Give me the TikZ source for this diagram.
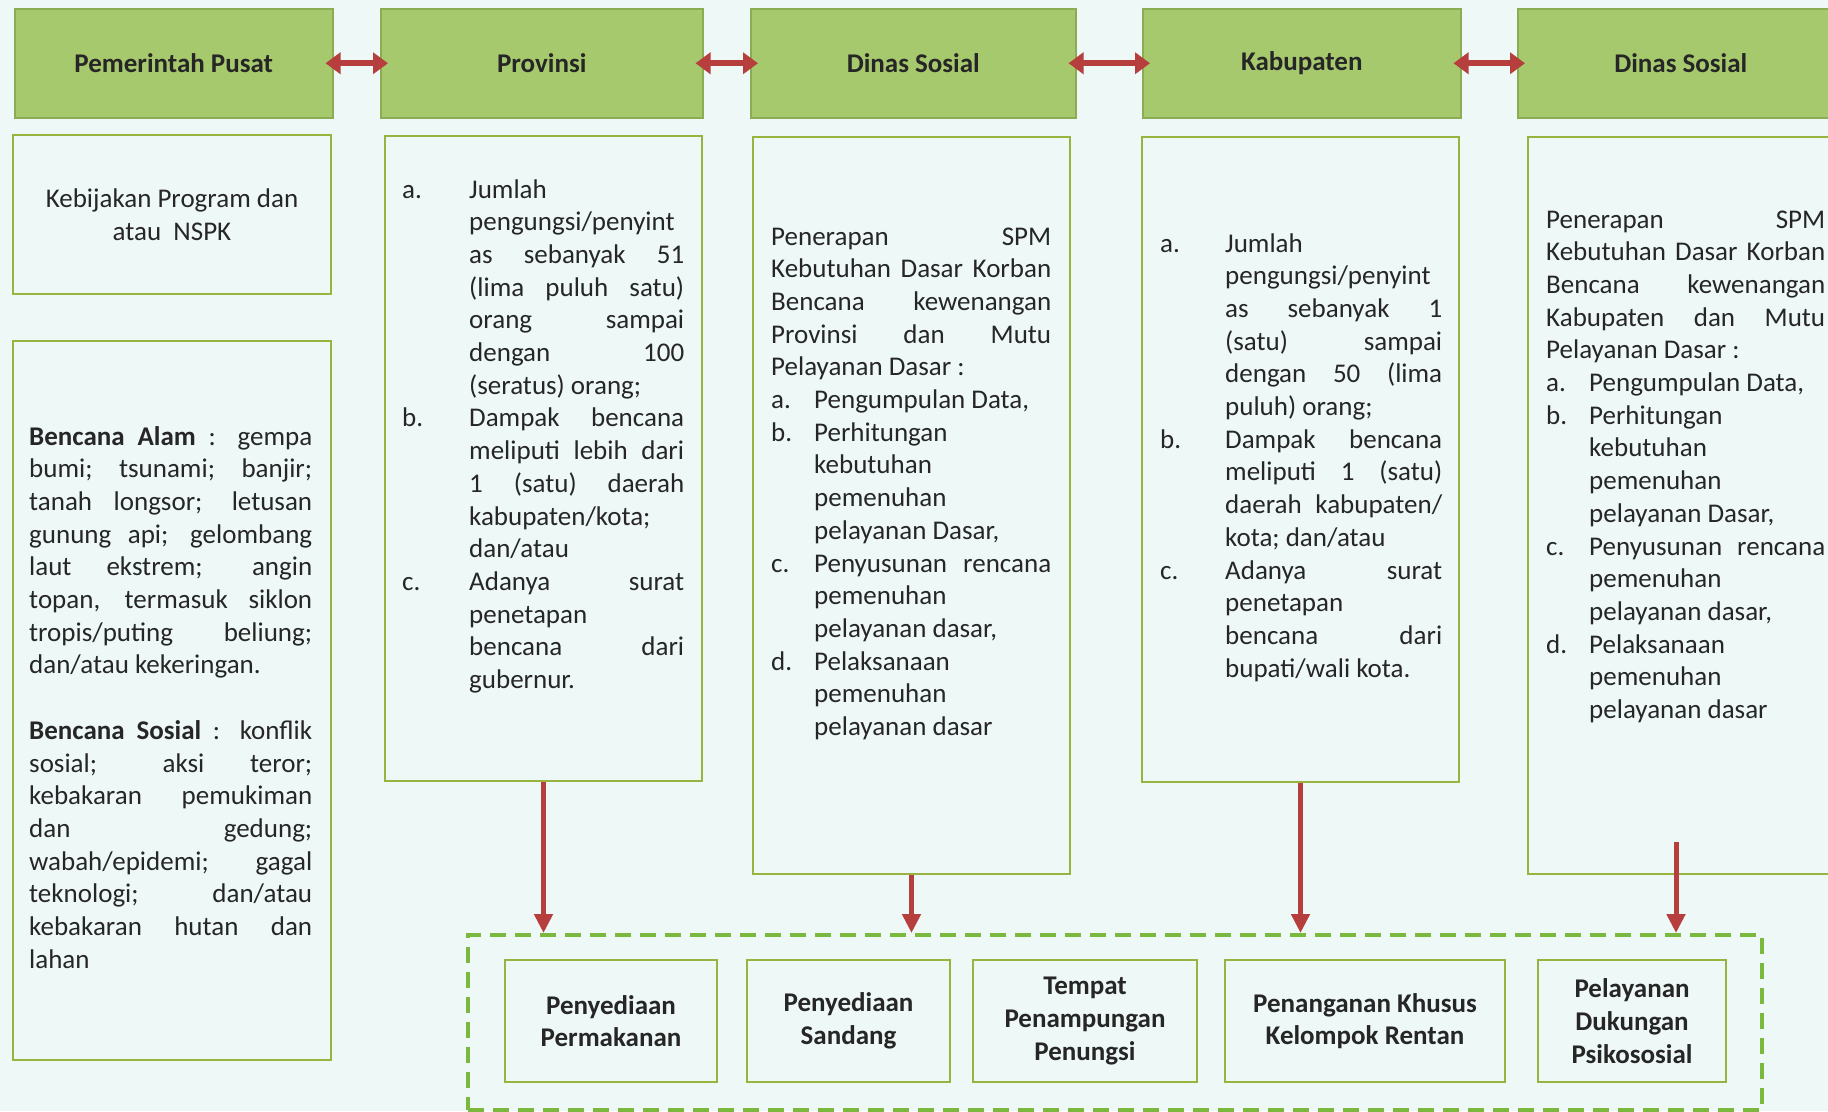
\documentclass[tikz,border=0pt]{standalone}
\usepackage{fontspec}
\setmainfont{Carlito}
\usetikzlibrary{positioning,arrows.meta}

\definecolor{latar}{RGB}{238,248,247}
\definecolor{hijaumuda}{RGB}{167,201,110}
\definecolor{garishijau}{RGB}{140,172,84}
\definecolor{garisbox}{RGB}{152,180,62}
\definecolor{hijaudash}{RGB}{122,184,62}
\definecolor{merah}{RGB}{182,62,60}

\newlength\gantung
\newcommand\butir[2]{\noindent\hangindent=\gantung\hangafter=1\makebox[\gantung][l]{#1}#2\par}

\begin{document}
\begin{tikzpicture}[x=1pt, y=-1pt,
      font=\fontsize{27pt}{32.7pt}\selectfont,
      kepala/.style={rectangle, draw=garishijau, line width=1.5pt, fill=hijaumuda, font=\fontsize{27pt}{32.7pt}\selectfont\bfseries, text=black!85, minimum height=109pt, inner sep=0pt, anchor=north west},
      kotak/.style={rectangle, draw=garisbox, line width=2pt, inner sep=0pt, anchor=north west},
      isian/.style={text width=#1, align=justify, inner sep=0pt, anchor=base west, text=black!85},
      layanan/.style={rectangle, draw=garisbox, line width=2pt, inner sep=2pt, anchor=north west, align=center, minimum height=122pt, font=\fontsize{27pt}{32.7pt}\selectfont\bfseries, text=black!85},
      panahdua/.style={{Triangle[length=15pt,width=21pt]}-{Triangle[length=15pt,width=21pt]}, line width=6pt, draw=merah, shorten <=-8pt, shorten >=-8pt},
      panah/.style={-{Triangle[length=19pt,width=18pt]}, line width=5pt, draw=merah}
    ]
    \useasboundingbox (0,0) rectangle (1828,1111);
    \clip (0,0) rectangle (1828,1111);
    \fill[latar] (0,0) rectangle (1828,1111);

    % header row
    \node[kepala, minimum width=318pt] (pusat) at (14,8) {Pemerintah Pusat};
    \node[kepala, minimum width=322pt] (prov) at (380,8) {Provinsi};
    \node[kepala, minimum width=325pt] (dsprov) at (750,8) {Dinas Sosial};
    \node[kepala, minimum width=318pt] (kab) at (1142,8) {Kabupaten};
    \node[kepala, minimum width=326pt] (dskab) at (1517,8) {Dinas Sosial};
    \draw[panahdua] (pusat) -- (prov);
    \draw[panahdua] (prov) -- (dsprov);
    \draw[panahdua] (dsprov) -- (kab);
    \draw[panahdua] (kab) -- (dskab);

    % boxes under the headers
    \node[kotak, minimum width=318pt, minimum height=159pt] (kebijakan) at (12,134) {};
    \node[align=center, text=black!85] (teksKebijakan) at (kebijakan.center) {Kebijakan Program dan\\atau~~NSPK};
    \node[kotak, minimum width=318pt, minimum height=719pt] (bencana) at (12,340) {};
    \node[kotak, minimum width=317pt, minimum height=645pt] (provIsi) at (384,135) {};
    \node[kotak, minimum width=317pt, minimum height=737pt] (dsprovIsi) at (752,136) {};
    \node[kotak, minimum width=317pt, minimum height=645pt] (kabIsi) at (1141,136) {};
    \node[kotak, minimum width=320pt, minimum height=737pt] (dskabIsi) at (1527,136) {};

    \node[isian=283pt] (teksBencana) at (29,445) {\textbf{Bencana Alam} : gempa\linebreak bumi; tsunami; banjir;\linebreak tanah longsor; letusan\linebreak gunung api; gelombang\linebreak laut ekstrem; angin\linebreak topan, termasuk siklon\linebreak tropis/puting beliung;\linebreak dan/atau kekeringan.\par\vspace{32.7pt}\noindent\textbf{Bencana Sosial} : konflik\linebreak sosial; aksi teror;\linebreak kebakaran pemukiman\linebreak dan gedung;\linebreak wabah/epidemi; gagal\linebreak teknologi; dan/atau\linebreak kebakaran hutan dan\linebreak lahan\par};

    \node[isian=282pt] (teksProv) at (402,198) {\setlength\gantung{67pt}%
      \butir{a.}{Jumlah\linebreak pengungsi/penyint\linebreak as sebanyak 51\linebreak (lima puluh satu)\linebreak orang sampai\linebreak dengan 100\linebreak (seratus) orang;}%
      \butir{b.}{Dampak bencana\linebreak meliputi lebih dari\linebreak 1 (satu) daerah\linebreak kabupaten/kota;\linebreak dan/atau}%
      \butir{c.}{Adanya surat\linebreak penetapan\linebreak bencana dari\linebreak gubernur.}};

    \node[isian=280pt] (teksDsprov) at (771,245) {\setlength\gantung{43pt}%
      \noindent Penerapan SPM\linebreak Kebutuhan Dasar Korban\linebreak Bencana kewenangan\linebreak Provinsi dan Mutu\linebreak Pelayanan Dasar~:\par
      \butir{a.}{Pengumpulan Data,}%
      \butir{b.}{Perhitungan\linebreak kebutuhan\linebreak pemenuhan\linebreak pelayanan Dasar,}%
      \butir{c.}{Penyusunan rencana\linebreak pemenuhan\linebreak pelayanan dasar,}%
      \butir{d.}{Pelaksanaan\linebreak pemenuhan\linebreak pelayanan dasar}};

    \node[isian=282pt] (teksKab) at (1160,252) {\setlength\gantung{65pt}%
      \butir{a.}{Jumlah\linebreak pengungsi/penyint\linebreak as sebanyak 1\linebreak (satu) sampai\linebreak dengan 50 (lima\linebreak puluh) orang;}%
      \butir{b.}{Dampak bencana\linebreak meliputi 1 (satu)\linebreak daerah kabupaten/\linebreak kota; dan/atau}%
      \butir{c.}{Adanya surat\linebreak penetapan\linebreak bencana dari\linebreak bupati/wali kota.}};

    \node[isian=279pt] (teksDskab) at (1546,228) {\setlength\gantung{43pt}%
      \noindent Penerapan SPM\linebreak Kebutuhan Dasar Korban\linebreak Bencana kewenangan\linebreak Kabupaten dan Mutu\linebreak Pelayanan Dasar~:\par
      \butir{a.}{Pengumpulan Data,}%
      \butir{b.}{Perhitungan\linebreak kebutuhan\linebreak pemenuhan\linebreak pelayanan Dasar,}%
      \butir{c.}{Penyusunan rencana\linebreak pemenuhan\linebreak pelayanan dasar,}%
      \butir{d.}{Pelaksanaan\linebreak pemenuhan\linebreak pelayanan dasar}};

    % services
    \node[rectangle, draw=hijaudash, line width=4pt, dash pattern=on 16pt off 9pt, minimum width=1294pt, minimum height=175pt, anchor=north west] (wadah) at (466,933) {};
    \node[layanan, minimum width=212pt] (makan) at (504,959) {Penyediaan\\Permakanan};
    \node[layanan, minimum width=203pt] (sandang) at (746,959) {Penyediaan\\Sandang};
    \node[layanan, minimum width=224pt] (tempat) at (972,959) {Tempat\\Penampungan\\Penungsi};
    \node[layanan, minimum width=280pt] (rentan) at (1224,959) {Penanganan Khusus\\Kelompok Rentan};
    \node[layanan, minimum width=188pt] (psikososial) at (1537,959) {Pelayanan\\Dukungan\\Psikososial};

    \coordinate (dskabPanah) at (1676,842);
    \draw[panah] (provIsi.south) -- (provIsi.south |- wadah.north);
    \draw[panah] (dsprovIsi.south) -- (dsprovIsi.south |- wadah.north);
    \draw[panah] (kabIsi.south) -- (kabIsi.south |- wadah.north);
    \draw[panah] (dskabPanah) -- (dskabPanah |- wadah.north);
  \end{tikzpicture}
\end{document}
